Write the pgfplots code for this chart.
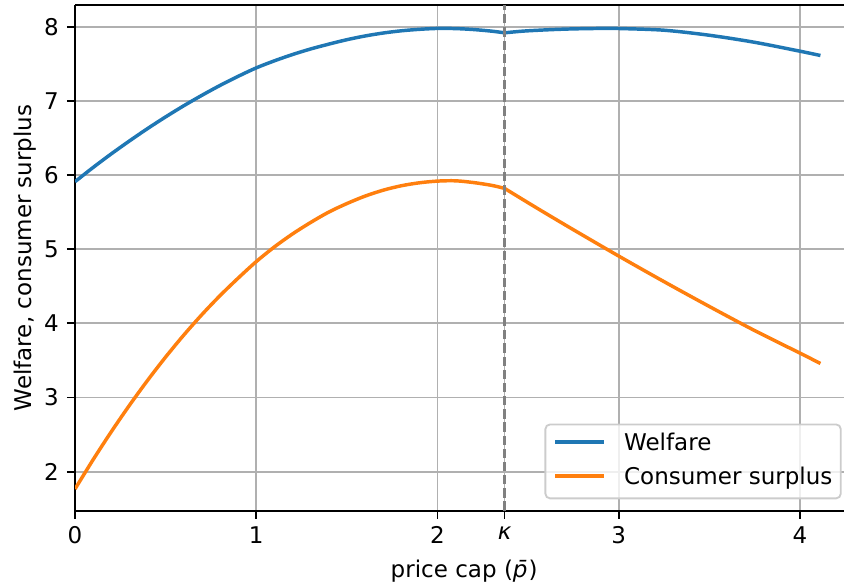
\documentclass[border=0pt]{standalone}
\usepackage{pgfplots}
\pgfplotsset{compat=1.18}
\usepackage{fontspec}
\setmainfont{DejaVu Sans}[ItalicFont={DejaVu Sans Oblique}]
\definecolor{mplblue}{HTML}{1F77B4}
\definecolor{mplorange}{HTML}{FF7F0E}
\definecolor{gridgray}{HTML}{B0B0B0}
\definecolor{legedge}{HTML}{CCCCCC}
\begin{document}
\begin{tikzpicture}
\useasboundingbox (-32.47bp,-32.16bp) rectangle (332.9bp,221.07bp);
\begin{axis}[
  at={(0,0)}, anchor=south west,
  scale only axis,
  width=332.9bp, height=218.9bp,
  xmin=0, xmax=4.243, ymin=1.473, ymax=8.293,
  axis x line*=box, axis y line*=left,
  xtick pos=bottom, ytick pos=left,
  axis line style={line width=0.8bp, black},
  tick style={line width=0.8bp, black},
  tick align=outside, major tick length=3.5bp,
  xtick={0,1,2,2.37,3,4},
  xticklabels={{0},{1},{2},{\textit{κ}},{3},{4}},
  ytick={2,3,4,5,6,7,8},
  /pgf/number format/assume math mode=true,
  ticklabel style={font=\fontsize{10}{12}\selectfont},
  grid=major,
  major grid style={gridgray, line width=0.8bp},
  xlabel={price cap (\textit{\=p})},
  ylabel={Welfare, consumer surplus},
  label style={font=\fontsize{10}{12}\selectfont},
  xlabel style={xshift=2bp},
  ylabel style={yshift=-3.5bp},
  legend style={
    at={(rel axis cs:0.997,0.0225)}, anchor=south east,
    draw=legedge, line width=0.8bp, rounded corners=2bp,
    fill=white, fill opacity=0.8, text opacity=1,
    inner xsep=3.6bp, inner ysep=3.65bp,
    font=\fontsize{10}{12}\selectfont,
    row sep=4.7bp,
    nodes={inner sep=0pt, text height=7.6bp, text depth=2.4bp, anchor=base west},
    /tikz/every odd column/.append style={column sep=7.8bp},
  },
  legend cell align=left,
  legend image code/.code={\draw[#1, line width=1.5bp] (0bp,3.7bp) -- (21.2bp,3.7bp);},
]
\addplot[mplblue, line width=1.5bp, smooth] coordinates {
(0,5.91) (0.1,6.102) (0.2,6.285) (0.3,6.459) (0.4,6.626) (0.5,6.784) (0.6,6.934)
(0.7,7.075) (0.8,7.208) (0.9,7.331) (1.0,7.445) (1.1,7.54) (1.2,7.625) (1.3,7.70)
(1.4,7.765) (1.5,7.825) (1.6,7.875) (1.7,7.915) (1.8,7.945) (1.9,7.965) (2.0,7.977)
(2.1,7.975) (2.2,7.962) (2.3,7.94) (2.37,7.918)
};
\addlegendentry{Welfare}
\addplot[mplblue, line width=1.5bp, smooth, forget plot] coordinates {
(2.37,7.918) (2.48,7.942) (2.62,7.96) (2.75,7.971) (2.9,7.977) (3.0,7.976)
(3.25,7.953) (3.5,7.885) (3.75,7.79) (4.0,7.67) (4.113,7.612)
};
\addplot[mplorange, line width=1.5bp, smooth] coordinates {
(0,1.765) (0.1,2.161) (0.2,2.537) (0.3,2.893) (0.4,3.229) (0.5,3.545) (0.6,3.841)
(0.7,4.117) (0.8,4.373) (0.9,4.609) (1.0,4.832) (1.1,5.03) (1.2,5.205) (1.3,5.36)
(1.4,5.50) (1.5,5.615) (1.6,5.715) (1.7,5.795) (1.8,5.855) (1.9,5.895) (2.0,5.918)
(2.1,5.922) (2.2,5.898) (2.3,5.86) (2.37,5.82)
};
\addlegendentry{Consumer surplus}
\addplot[mplorange, line width=1.5bp, smooth, forget plot] coordinates {
(2.37,5.82) (2.5,5.626) (2.6,5.479) (2.75,5.262) (3.0,4.907) (3.25,4.562)
(3.5,4.227) (3.75,3.902) (4.0,3.598) (4.113,3.458)
};
\draw[gray, line width=1.2bp, dash pattern=on 4bp off 1.7bp] (axis cs:2.37,1.473) -- (axis cs:2.37,8.293);
\end{axis}
\end{tikzpicture}
\end{document}
